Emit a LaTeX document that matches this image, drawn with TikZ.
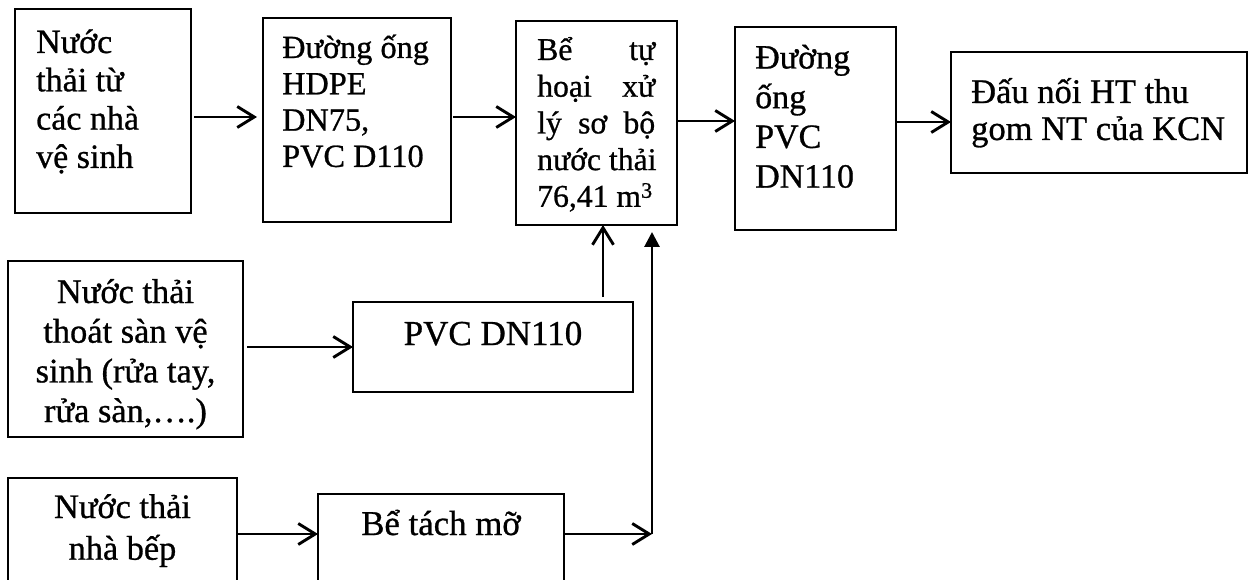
\documentclass[tikz,border=0pt]{standalone}
\usepackage{fontspec}
\setmainfont[FakeBold=0.8]{Liberation Serif}
\usetikzlibrary{arrows.meta}
\newcommand\LinesL[2]{\vtop{\baselineskip=#1pt\lineskiplimit=-200pt\lineskip=0pt\halign{##\hfil\cr#2\crcr}}}
\newcommand\LinesC[2]{\vtop{\baselineskip=#1pt\lineskiplimit=-200pt\lineskip=0pt\halign{\hfil##\hfil\cr#2\crcr}}}
\begin{document}
\begin{tikzpicture}[x=1pt,y=-1pt,
  box/.style={draw, line width=1.3pt, inner sep=0pt, outer sep=0pt, anchor=north west},
  txt/.style={inner sep=0pt, font=\fontsize{#1}{40}\selectfont},
  conn/.style={line width=2.9pt, -{Straight Barb[length=17pt,width=21pt]}},
  fconn/.style={line width=2.9pt, -{Triangle[length=15pt,width=15pt]}}]
\useasboundingbox (0,0) rectangle (1248,580);
\fill[white] (0,0) rectangle (1248,580);
\clip (0,0) rectangle (1248,580);
% boxes
\node[box, minimum width=176pt, minimum height=204pt] (A) at (15,9) {};
\node[box, minimum width=188pt, minimum height=204pt] (B) at (263,18) {};
\node[box, minimum width=161pt, minimum height=204pt] (C) at (516,21) {};
\node[box, minimum width=161pt, minimum height=203pt] (D) at (735,27) {};
\node[box, minimum width=296pt, minimum height=121pt] (E) at (951,52) {};
\node[box, minimum width=235pt, minimum height=176pt] (F) at (8,261) {};
\node[box, minimum width=280pt, minimum height=90pt] (G) at (353,302) {};
\node[box, minimum width=229pt, minimum height=130pt] (H) at (8,478) {};
\node[box, minimum width=246pt, minimum height=120pt] (I) at (318,494) {};
% texts
\node[txt=34, anchor=base west] (tA) at ([shift={(21,44)}]A.north west) {\LinesL{38.3}{Nước\cr thải từ\cr các nhà\cr vệ sinh}};
\node[txt=32.3, anchor=base west] (tB) at ([shift={(19,40)}]B.north west) {\LinesL{36.3}{Đường ống\cr HDPE\cr DN75,\cr PVC D110}};
\node[txt=31.7, anchor=base west] (tC) at ([shift={(21,39)}]C.north west) {\LinesL{36.7}{\hbox to118pt{Bể\hfil tự}\cr \hbox to118pt{hoại\hfil xử}\cr \hbox to118pt{lý\hfil sơ\hfil bộ}\cr nước thải\cr 76,41 m\textsuperscript{3}}};
\node[txt=34, anchor=base west] (tD) at ([shift={(20,41.5)}]D.north west) {\LinesL{39.7}{Đường\cr ống\cr PVC\cr DN110}};
\node[txt=34.5, anchor=base west] (tE) at ([shift={(20,51)}]E.north west) {\LinesL{37}{Đấu nối HT thu\cr gom NT của KCN}};
\node[txt=34.4, anchor=base] (tF) at ([shift={(0,42)}]F.north) {\LinesC{39.7}{Nước thải\cr thoát sàn vệ\cr sinh (rửa tay,\cr rửa sàn,….)}};
\node[txt=35, anchor=base] (tG) at ([shift={(0,43)}]G.north) {PVC DN110};
\node[txt=34.3, anchor=base] (tH) at ([shift={(0,40)}]H.north) {\LinesC{41.7}{Nước thải\cr nhà bếp}};
\node[txt=34.8, anchor=base] (tI) at ([shift={(0,41)}]I.north) {Bể tách mỡ};
% connectors
\draw[conn, shorten <=3pt, shorten >=6pt] (A.east |- 0,117) -- (B.west |- 0,117);
\draw[conn, shorten <=2pt] (B.east |- 0,117) -- (C.west |- 0,117);
\draw[conn] (C.east |- 0,121) -- (D.west |- 0,121);
\draw[conn] (D.east |- 0,122) -- (E.west |- 0,122);
\draw[conn, shorten <=4pt] (F.east |- 0,347) -- (G.west |- 0,347);
\draw[conn, shorten <=5pt] (G.north -| 603,0) -- (C.south -| 603,0);
\draw[conn] (H.east |- 0,534) -- (I.west |- 0,534);
\coordinate (J) at (652,534);
\draw[conn] (I.east |- J) -- (J);
\draw[fconn, shorten >=7pt] (J) -- (J |- C.south);
\end{tikzpicture}
\end{document}
